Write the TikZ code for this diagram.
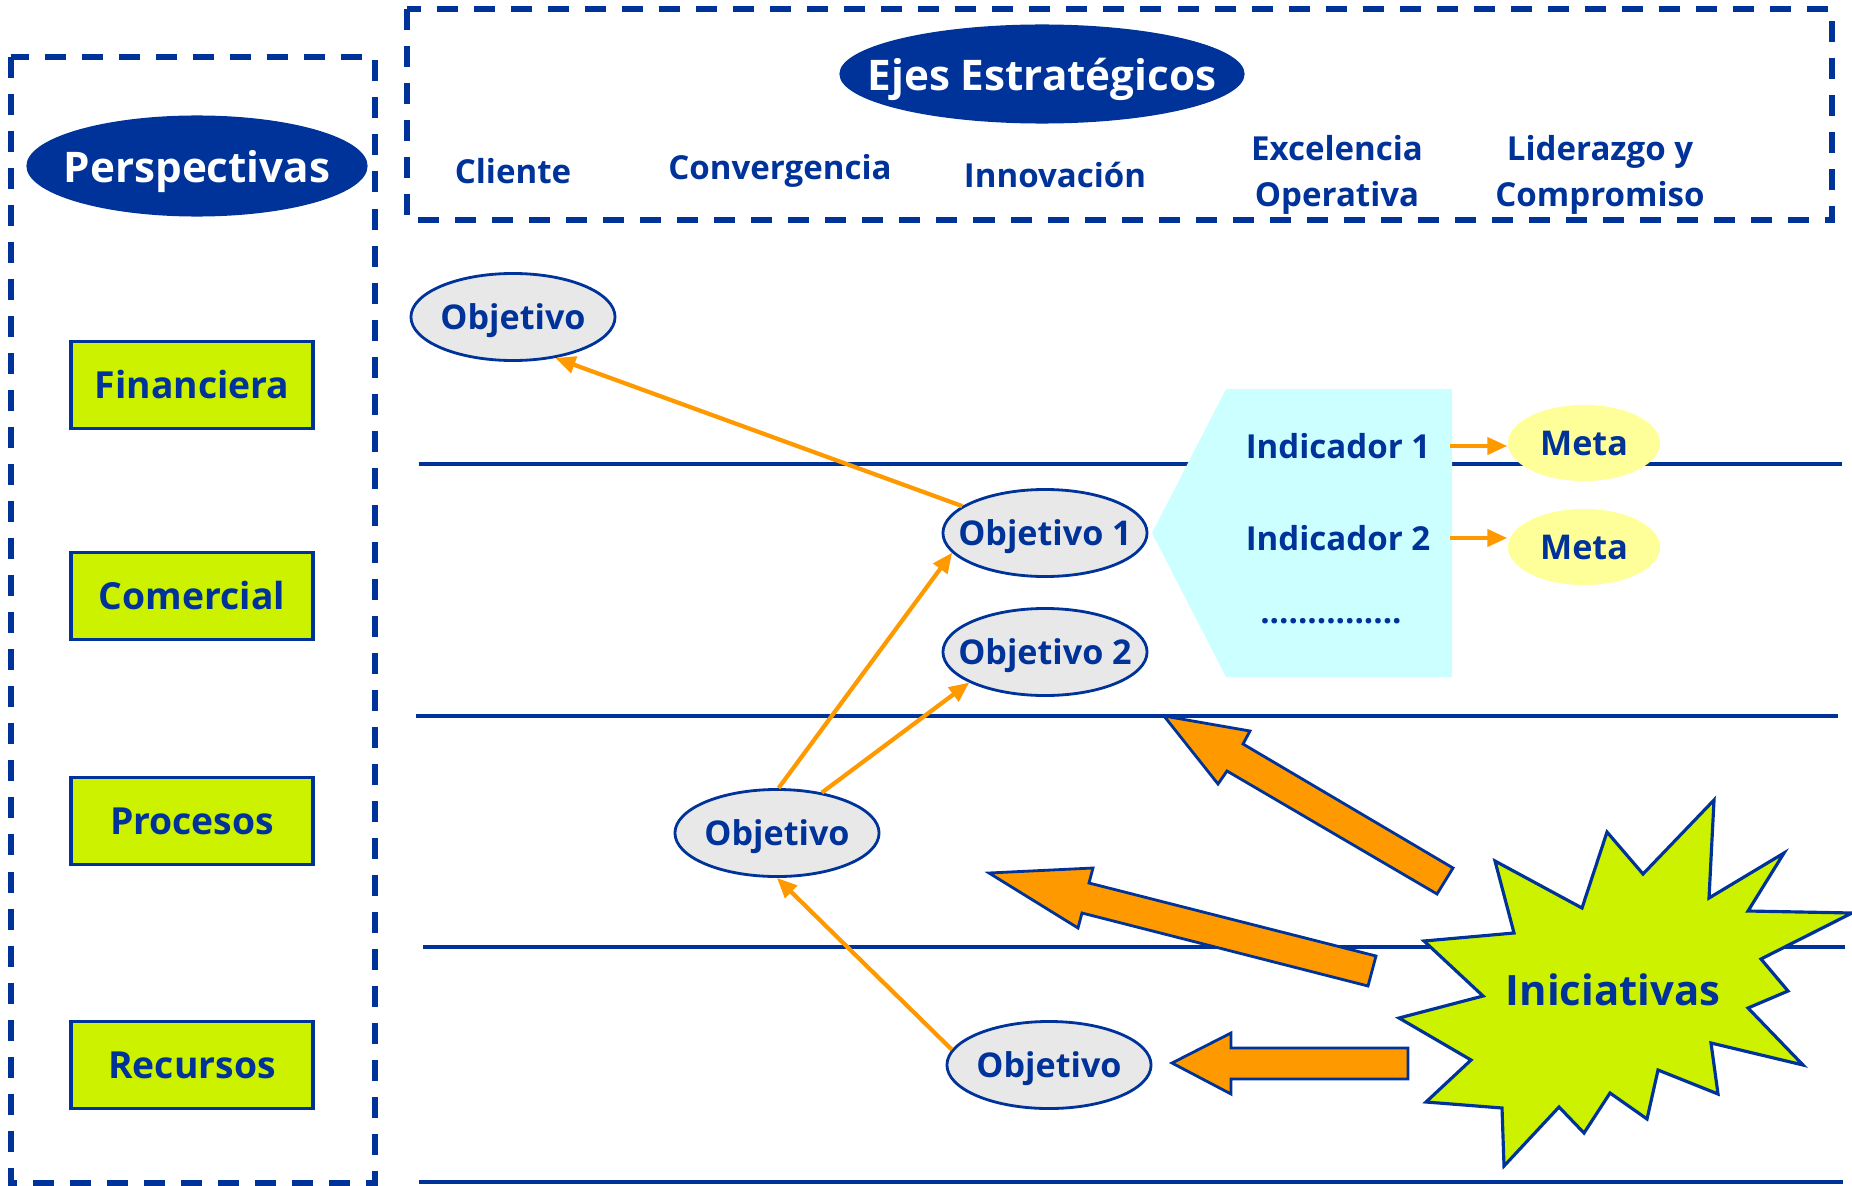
\documentclass[tikz,border=0pt]{standalone}
\usepackage{fontspec}
\setmainfont{Open Sans}
\usetikzlibrary{arrows.meta, positioning, shapes.geometric}
\definecolor{bsc_blue}{RGB}{0,51,153}
\definecolor{bsc_orange}{RGB}{255,153,0}
\definecolor{bsc_lime}{RGB}{204,242,0}
\definecolor{bsc_gray}{RGB}{232,232,232}
\definecolor{bsc_cyan}{RGB}{204,255,255}
\definecolor{bsc_yellow}{RGB}{255,255,153}
\tikzset{
  dash_box/.style={draw=bsc_blue, line width=1.5pt, dash pattern=on 0.21cm off 0.16cm},
  title_oval/.style={ellipse, fill=bsc_blue, text=white, inner xsep=-1cm, inner ysep=0pt, text depth=0pt, font=\fontsize{12}{14}\selectfont\bfseries},
  persp_box/.style={rectangle, draw=bsc_blue, fill=bsc_lime, line width=0.9pt, minimum width=2.42cm, minimum height=0.87cm, text=bsc_blue, font=\fontsize{10.6}{13}\selectfont\bfseries},
  eje_label/.style={text=bsc_blue, align=center, font=\fontsize{9.4}{13}\selectfont\bfseries},
  obj_oval/.style={ellipse, draw=bsc_blue, fill=bsc_gray, line width=0.8pt, minimum width=2.04cm, minimum height=0.87cm, inner xsep=-0.5cm, inner ysep=0pt, text depth=0pt, text=bsc_blue, font=\fontsize{9.7}{12}\selectfont\bfseries},
  meta_oval/.style={ellipse, fill=bsc_yellow, minimum width=1.52cm, minimum height=0.76cm, inner xsep=-0.3cm, inner ysep=0pt, text=bsc_blue, font=\fontsize{9.7}{12}\selectfont\bfseries},
  ind_label/.style={text=bsc_blue, font=\fontsize{9.4}{12}\selectfont\bfseries},
  level_line/.style={draw=bsc_blue, line width=0.9pt},
  link/.style={-{Triangle[length=2mm, width=1.7mm]}, draw=bsc_orange, line width=1.2pt},
  block_arrow/.style={draw=bsc_blue, fill=bsc_orange, line width=0.8pt, line join=miter},
  burst/.style={draw=bsc_blue, fill=bsc_lime, line width=0.9pt},
  burst_label/.style={text=bsc_blue, font=\fontsize{11.9}{15}\selectfont\bfseries}
}

\begin{document}
\begin{tikzpicture}[x=0.01cm, y=-0.01cm, >=Stealth]
  \useasboundingbox (0,0) rectangle (1852,1185);

  % Perspectives column
  \draw[dash_box] (11,57) rectangle (375,1183);
  \node[title_oval, minimum width=3.41cm, minimum height=1.01cm] (persp) at (197,166) {Perspectivas};
  \node[persp_box] (fin) at (192,385) {Financiera};
  \node[persp_box] (com) at (192,596) {Comercial};
  \node[persp_box] (pro) at (192,821) {Procesos};
  \node[persp_box] (rec) at (192,1065) {Recursos};

  % Strategic axes header
  \draw[dash_box] (407,9) rectangle (1832,220);
  \node[title_oval, minimum width=4.05cm, minimum height=0.99cm] (ejes) at (1042,74) {Ejes Estratégicos};
  \node[eje_label] (cli) at (513,171) {Cliente};
  \node[eje_label] (conv) at (780,171) {Convergencia};
  \node[eje_label] (inno) at (1055,175) {Innovación};
  \node[eje_label] (exc) at (1337,175) {Excelencia\\Operativa};
  \node[eje_label] (lid) at (1600,175) {Liderazgo y\\Compromiso};

  % Level separators
  \draw[level_line] (419,464) -- (1842,464);
  \draw[level_line] (416,716) -- (1838,716);
  \draw[level_line] (423,947) -- (1845,947);
  \draw[level_line] (419,1182) -- (1843,1182);

  % Indicators panel
  \fill[bsc_cyan] (1152,533) -- (1226,389) -- (1452,389) -- (1452,677) -- (1226,677) -- cycle;
  \coordinate (panel_e) at (1450,533);
  \node[ind_label] (ind1) at (1338,446) {Indicador 1};
  \node[ind_label] (ind2) at (1338,538) {Indicador 2};
  \node[ind_label] (dots) at (1331,621) {...............};
  \node[meta_oval] (meta1) at (1584,443) {Meta};
  \node[meta_oval] (meta2) at (1584,547) {Meta};
  \draw[link] (ind1 -| panel_e) -- (ind1 -| meta1.west);
  \draw[link] (ind2 -| panel_e) -- (ind2 -| meta2.west);

  % Initiative arrows
  \draw[block_arrow] (1164,716) -- (1250,731) -- (1243,744) -- (1453,868) -- (1437,894) -- (1227,771) -- (1218,784) -- cycle;
  \draw[block_arrow] (989,873) -- (1093,868) -- (1089,883) -- (1376,956) -- (1368,986) -- (1082,913) -- (1078,928) -- cycle;
  \draw[block_arrow] (1172,1063) -- (1231,1033) -- (1231,1048) -- (1408,1048) -- (1408,1079) -- (1231,1079) -- (1231,1094) -- cycle;

  % Initiatives burst
  \draw[burst] (1495,861) -- (1582,908) -- (1607,832) -- (1643,874) -- (1714,800) -- (1709,898)
    -- (1784,853) -- (1748,911) -- (1852,913) -- (1761,959) -- (1788,991) -- (1748,1008)
    -- (1803,1065) -- (1711,1043) -- (1718,1094) -- (1658,1070) -- (1647,1119) -- (1610,1093)
    -- (1584,1133) -- (1559,1107) -- (1504,1166) -- (1502,1108) -- (1426,1102) -- (1471,1060)
    -- (1399,1018) -- (1483,996) -- (1424,941) -- (1514,933) -- cycle;
  \node[burst_label] (ini) at (1613,990) {Iniciativas};

  % Objectives
  \node[obj_oval] (obj_fin) at (513,317) {Objetivo};
  \node[obj_oval] (obj_1) at (1045,533) {Objetivo 1};
  \node[obj_oval] (obj_2) at (1045,652) {Objetivo 2};
  \node[obj_oval] (obj_pro) at (777,833) {Objetivo};
  \node[obj_oval] (obj_rec) at (1049,1065) {Objetivo};

  % Cause-effect links
  \draw[link] (obj_1.162) -- (obj_fin.-44);
  \draw[link] (obj_pro.88) -- (obj_1.192);
  \draw[link] (obj_pro.42) -- (obj_2.202);
  \draw[link] (obj_rec.171) -- (obj_pro.south);

\end{tikzpicture}
\end{document}
